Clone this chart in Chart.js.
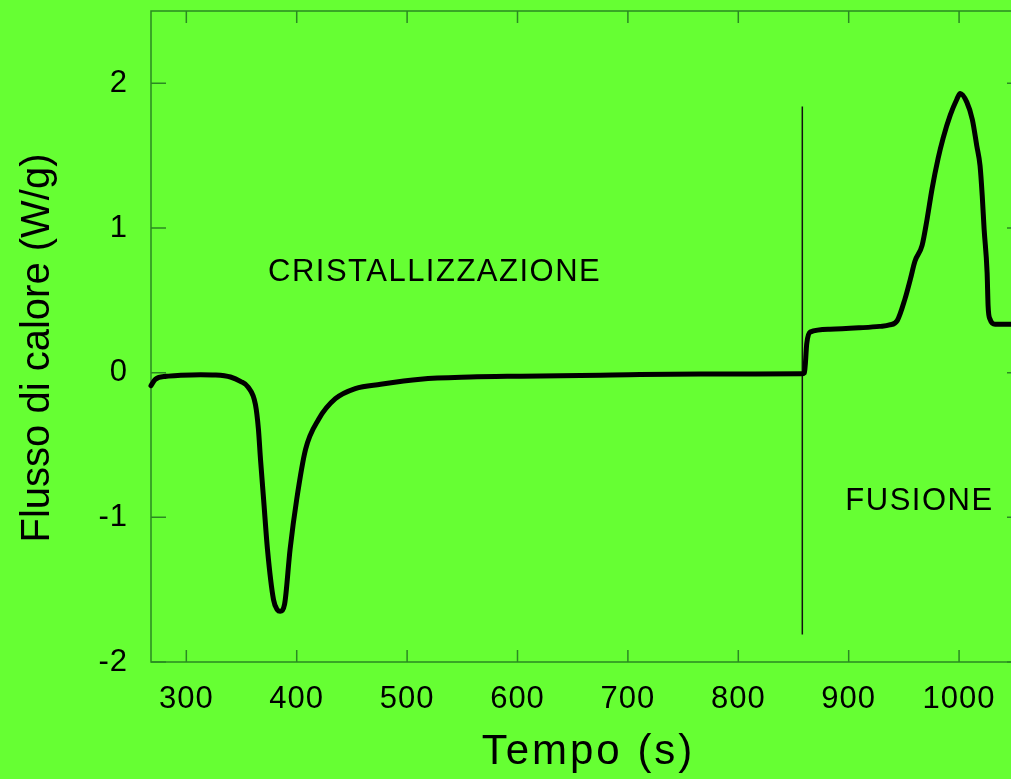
<!DOCTYPE html>
<html>
<head>
<meta charset="utf-8">
<script src="https://cdn.jsdelivr.net/npm/chart.js@4/dist/chart.umd.min.js"></script>
<style>
  html, body { margin: 0; padding: 0; background: #66ff33; overflow: hidden; }
  #wrap { width: 1030px; height: 779px; }
</style>
</head>
<body>
<div id="wrap"><canvas id="chart"></canvas></div>
<script>
// Dati della curva DSC (tempo in s, flusso in W/g)
const tempo = [268, 272, 282, 295, 313, 326, 340, 349, 356, 362.6, 365.3, 367.2, 370, 373.5, 379, 382.5, 385, 389, 394, 400, 408,
  420, 435, 453, 476, 512, 557, 603, 675, 766, 857, 860, 862, 865, 883, 910, 928, 937, 944, 951, 956,
  960, 966.5, 971, 975.5, 981, 985.5, 992, 998, 1001, 1007, 1012, 1016, 1019, 1021, 1022.7, 1025.4, 1026.3, 1028, 1032.6, 1047, 1057];
const flusso = [-0.09, -0.045, -0.025, -0.018, -0.014, -0.016, -0.03, -0.06, -0.1, -0.22, -0.39, -0.6, -0.875, -1.22, -1.57, -1.64, -1.65, -1.60, -1.22, -0.875, -0.53,
  -0.32, -0.18, -0.11, -0.08, -0.045, -0.03, -0.024, -0.017, -0.01, -0.008, 0.0, 0.2, 0.28, 0.30, 0.31, 0.32, 0.33, 0.36, 0.51, 0.65,
  0.77, 0.88, 1.06, 1.27, 1.48, 1.62, 1.78, 1.89, 1.93, 1.87, 1.75, 1.57, 1.43, 1.22, 0.99, 0.69, 0.46, 0.37, 0.335, 0.335, 0.335];

// linea verticale che separa le due zone
const separatoreX = [858, 858];
const separatoreY = [1.84, -1.81];

// etichette delle zone
const etichette = [
  { testo: 'CRISTALLIZZAZIONE', x: 374, y: 0.69 },
  { testo: 'FUSIONE', x: 897, y: -0.89 }
];

const titoloX = 'Tempo (s)';
const titoloY = 'Flusso di calore (W/g)';

const xMin = 268, xMax = 1057;
const yMin = -2, yMax = 2.5;

const verde = '#2a8a22';
const font = '"Liberation Sans", Arial, sans-serif';

// Tacche interne sui quattro lati, cornice, titoli ed etichette
const tacchePlugin = {
  id: 'tacche',
  beforeDraw(chart) {
    // testo un po' allargato come nell'originale
    chart.ctx.letterSpacing = '1px';
  },
  beforeDatasetsDraw(chart) {
    const { ctx, chartArea: a, scales } = chart;
    ctx.letterSpacing = '0px';
    ctx.save();
    ctx.strokeStyle = verde;
    ctx.lineWidth = 1.5;
    ctx.strokeRect(a.left, a.top, a.right - a.left, a.bottom - a.top);
    ctx.beginPath();
    scales.x.ticks.forEach(t => {
      const px = scales.x.getPixelForValue(t.value);
      ctx.moveTo(px, a.bottom); ctx.lineTo(px, a.bottom - 12);
      ctx.moveTo(px, a.top); ctx.lineTo(px, a.top + 12);
    });
    scales.y.ticks.forEach(t => {
      const py = scales.y.getPixelForValue(t.value);
      ctx.moveTo(a.left, py); ctx.lineTo(a.left + 15, py);
      ctx.moveTo(a.right, py); ctx.lineTo(a.right - 15, py);
    });
    ctx.stroke();
    ctx.restore();
  },
  afterDatasetsDraw(chart) {
    const { ctx, chartArea: a, scales } = chart;
    ctx.save();
    ctx.fillStyle = '#000';
    ctx.font = '31px ' + font;
    ctx.letterSpacing = '1.5px';
    ctx.textBaseline = 'middle';
    ctx.textAlign = 'left';
    etichette.forEach(e => {
      ctx.fillText(e.testo, scales.x.getPixelForValue(e.x), scales.y.getPixelForValue(e.y));
    });
    // titolo asse x
    ctx.font = '42px ' + font;
    ctx.letterSpacing = '3px';
    ctx.textAlign = 'center';
    ctx.fillText(titoloX, (a.left + a.right) / 2 + 2, 752);
    // titolo asse y
    ctx.font = '40px ' + font;
    ctx.letterSpacing = '0px';
    ctx.translate(38, 348);
    ctx.rotate(-Math.PI / 2);
    ctx.fillText(titoloY, 0, 0);
    ctx.restore();
  }
};

const ctx = document.getElementById('chart').getContext('2d');
new Chart(ctx, {
  type: 'line',
  data: {
    datasets: [{
      data: tempo.map((t, i) => ({ x: t, y: flusso[i] })),
      borderColor: '#000',
      borderWidth: 5,
      pointRadius: 0,
      cubicInterpolationMode: 'monotone',
      borderCapStyle: 'round',
      borderJoinStyle: 'round',
      clip: false
    }, {
      data: separatoreX.map((t, i) => ({ x: t, y: separatoreY[i] })),
      borderColor: '#111',
      borderWidth: 1.5,
      pointRadius: 0
    }]
  },
  options: {
    responsive: true,
    maintainAspectRatio: false,
    animation: false,
    layout: { padding: { top: 11, right: 8, left: 0, bottom: 0 } },
    plugins: { legend: { display: false }, tooltip: { enabled: false } },
    scales: {
      x: {
        type: 'linear',
        min: xMin, max: xMax,
        grid: { display: false, drawTicks: false },
        border: { display: false },
        ticks: {
          stepSize: 100, includeBounds: false, autoSkip: false, maxRotation: 0,
          color: '#000', padding: 19,
          font: { family: font, size: 31 },
          callback: v => String(v)
        },
        afterFit(scale) {
          scale.height = 117;
          scale.paddingLeft = 0; scale.paddingRight = 0;
        }
      },
      y: {
        min: yMin, max: yMax,
        grid: { display: false, drawTicks: false },
        border: { display: false },
        ticks: {
          stepSize: 1, includeBounds: false,
          color: '#000', padding: 23,
          font: { family: font, size: 31 },
          callback: v => String(v)
        },
        afterFit(scale) {
          scale.width = 151;
          scale.paddingTop = 0; scale.paddingBottom = 0;
        }
      }
    }
  },
  plugins: [tacchePlugin]
});
</script>
</body>
</html>
